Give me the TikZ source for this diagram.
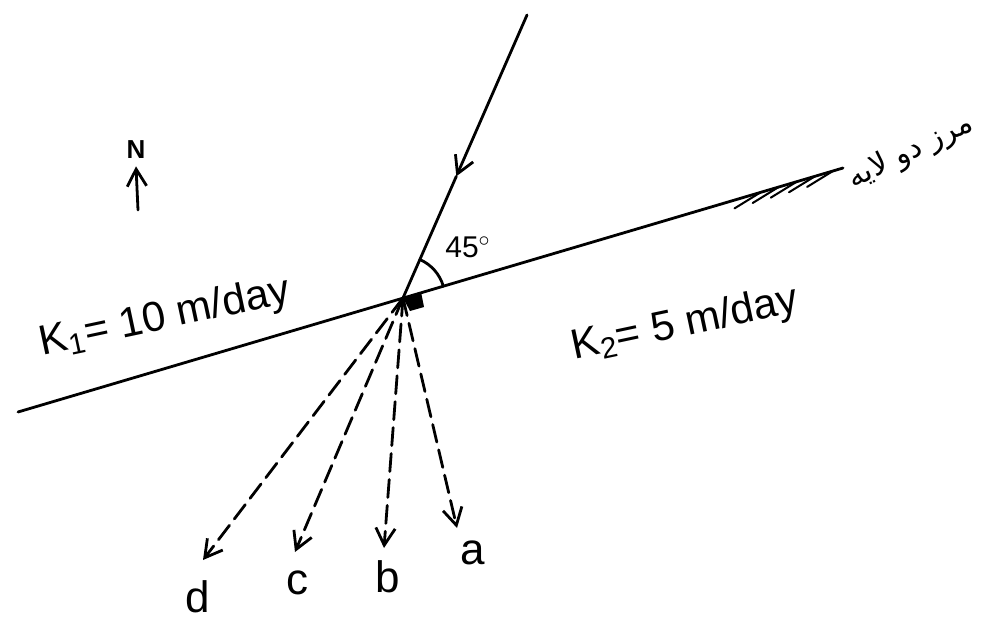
\documentclass[tikz,border=0pt]{standalone}
\usepackage{fontspec}
\setmainfont{Liberation Sans}
\newfontfamily\persianfont[Script=Arabic]{DejaVu Sans}
\TeXXeTstate=1
\usetikzlibrary{arrows.meta}

\begin{document}
\begin{tikzpicture}[x=0.5pt, y=-0.5pt, line width=1.4pt, line cap=round,
  arr/.style={-{Straight Barb[length=3mm, width=3.4mm, line width=1.4pt]}},
  flow/.style={arr, dash pattern=on 9pt off 4pt},
  lbl/.style={font=\fontsize{22}{24}\selectfont, inner sep=0pt},
  klbl/.style={font=\fontsize{21}{24}\selectfont, rotate=12, inner sep=0pt}]
\useasboundingbox (0,0) rectangle (989,620);
% boundary between the two layers, with hatching at its right end
\coordinate (bl) at (18,412);
\coordinate (br) at (843,168);
\coordinate (P) at (403,298);
\draw (bl) -- (br);
\foreach \p in {0.900,0.922,0.944,0.966,0.988}
  \path (bl) -- (br) coordinate[pos=\p] (h) (h) edge[line width=1pt] ++(-26,16);
\node[font=\persianfont\fontsize{15}{18}\selectfont, rotate=26, inner sep=0pt] (bnd) at (911,152) {\beginR مرز دو لایه\endR};
% incoming flow line, arrow half way
\coordinate (src) at (527,15);
\path (src) -- (P) coordinate[pos=0.57] (mid);
\draw[arr] (src) -- (mid);
\draw (mid) -- (P);
\fill (P) -- ++(18,-6) -- ++(3,15) -- ++(-14,4) -- cycle;
% angle to the boundary
\draw ([shift={(P)}]16.5:21pt) arc[start angle=16.5, end angle=66.3, radius=21pt];
\node[font=\fontsize{15}{16}\selectfont, inner sep=0pt] (ang) at (468,247) {45$^{\circ}$};
% north arrow
\node[font=\bfseries\fontsize{13}{14}\selectfont, inner sep=0pt] (N) at (136,150) {N};
\coordinate (Nbase) at (138,210);
\draw[arr] (Nbase) -- ([yshift=-3pt]N.south);
% conductivities of the two layers
\node[klbl] (k1) at (165,318) {K\textsubscript{1}= 10 m/day};
\node[klbl] (k2) at (685,325) {K\textsubscript{2}= 5 m/day};
% possible refracted directions
\node[lbl] (a) at (473,553) {a};
\node[lbl] (b) at (388,577) {b};
\node[lbl] (c) at (297,583) {c};
\node[lbl] (d) at (198,597) {d};
\coordinate (ta) at (457,528);
\coordinate (tb) at (384,548);
\coordinate (tc) at (295,552);
\coordinate (td) at (203,560);
\foreach \t in {ta,tb,tc,td}
  \draw[flow] (P) -- (\t);
\end{tikzpicture}
\end{document}
